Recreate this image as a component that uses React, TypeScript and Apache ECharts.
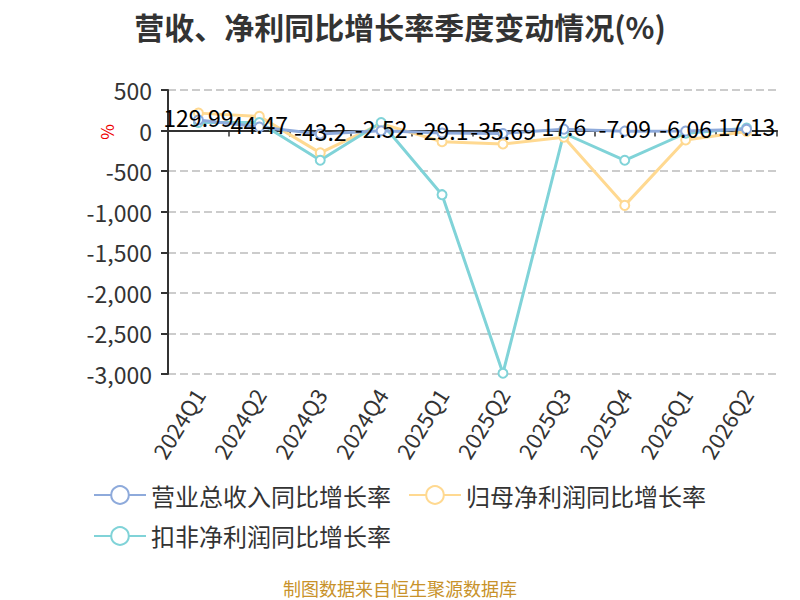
import React, { useEffect, useRef } from "react";
import * as echarts from "echarts";

const categories = ["2024Q1", "2024Q2", "2024Q3", "2024Q4", "2025Q1", "2025Q2", "2025Q3", "2025Q4", "2026Q1", "2026Q2"];
const revenueGrowth = [129.99, 44.47, -43.2, -2.52, -29.1, -35.69, 17.6, -7.09, -6.06, 17.13];
const netProfitGrowth = [215, 175, -275, 85, -137, -166, -83, -922, -115, -12];
const deductedProfitGrowth = [100, 100, -366, 100, -790, -2990, -33, -366, -33, 30];
const seriesNames = ["营业总收入同比增长率", "归母净利润同比增长率", "扣非净利润同比增长率"];
const colors = ["#8eaadb", "#ffd991", "#80d3d8"];

export default function App() {
  const ref = useRef<HTMLDivElement>(null);
  useEffect(() => {
    if (!ref.current) return;
    const chart = echarts.init(ref.current, undefined, { renderer: "svg" });
    const font = "'Noto Sans CJK SC', 'Noto Sans', sans-serif";
    const mk = (i: number, data: number[], label: boolean) => ({
      name: seriesNames[i],
      type: "line",
      data,
      symbol: "emptyCircle",
      symbolSize: 9,
      lineStyle: { width: 3, color: colors[i] },
      itemStyle: { color: colors[i], borderWidth: 2 },
      z: label ? 4 : 2,
      label: label
        ? { show: true, position: "inside", offset: [0, -3], color: "#000", fontSize: 23, fontFamily: font }
        : { show: false },
    });
    chart.setOption({
      animation: false,
      color: colors,
      textStyle: { fontFamily: font },
      title: {
        text: "营收、净利同比增长率季度变动情况(%)",
        left: "center",
        top: 6,
        textStyle: { fontSize: 30, fontWeight: "bold", color: "#333", fontFamily: font },
      },
      legend: {
        left: 88,
        top: 478,
        width: 700,
        itemWidth: 52,
        itemHeight: 22,
        itemGap: 17,
        textStyle: { fontSize: 24, color: "#333", fontFamily: font },
        data: seriesNames,
      },
      grid: { left: 168, right: 23, top: 90, bottom: 226, containLabel: false },
      xAxis: [
        {
          type: "category",
          data: categories,
          position: "bottom",
          axisLine: { show: false, onZero: false },
          axisTick: { show: false },
          axisLabel: { rotate: 58, fontSize: 22, color: "#333", margin: 16, fontFamily: font },
        },
        {
          type: "category",
          data: categories,
          position: "bottom",
          axisLine: { show: true, onZero: true, lineStyle: { color: "#333", width: 2 } },
          axisTick: { show: true, length: 6, lineStyle: { color: "#333", width: 1.5 } },
          axisLabel: { show: false },
        },
      ],
      yAxis: {
        type: "value",
        min: -3000,
        max: 500,
        interval: 500,
        axisLine: { show: true, lineStyle: { color: "#333", width: 2 } },
        axisTick: { show: true, length: 7, lineStyle: { color: "#333", width: 2 } },
        axisLabel: { fontSize: 23, color: "#333", fontFamily: font, margin: 16 },
        splitLine: { lineStyle: { type: "dashed", color: "#ccc", width: 2 } },
      },
      graphic: [
        {
          type: "text",
          x: 106,
          y: 132,
          rotation: Math.PI / 2,
          style: { text: "%", fill: "#e00", fontSize: 17, fontFamily: font, align: "center", verticalAlign: "middle" },
        },
        {
          type: "text",
          x: 400,
          y: 588,
          style: { text: "制图数据来自恒生聚源数据库", fill: "#c8922a", fontSize: 18, fontFamily: font, align: "center", verticalAlign: "middle" },
        },
      ],
      series: [mk(0, revenueGrowth, true), mk(1, netProfitGrowth, false), mk(2, deductedProfitGrowth, false)],
    });
    return () => chart.dispose();
  }, []);
  return <div ref={ref} style={{ width: 800, height: 600, marginLeft: -8, marginTop: -8 }} />;
}
